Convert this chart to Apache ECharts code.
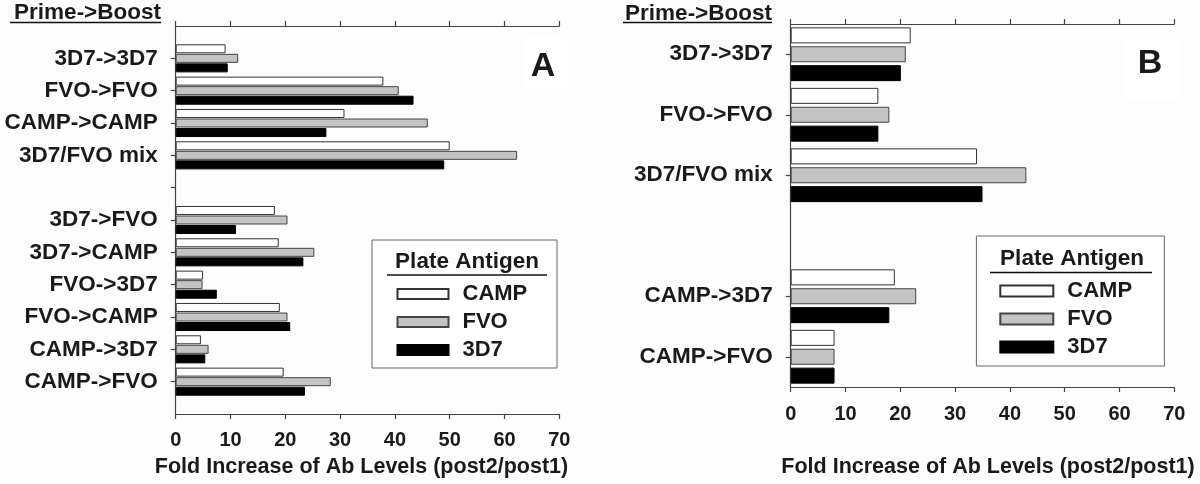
<!DOCTYPE html>
<html>
<head>
<meta charset="utf-8">
<title>Fold increase of Ab levels</title>
<script src="https://cdn.jsdelivr.net/npm/echarts@6/dist/echarts.min.js"></script>
<style>
html, body { margin: 0; padding: 0; background: #fdfdfd; }
#chart { width: 1200px; height: 484px; }
</style>
</head>
<body>
<div id="chart"></div>
<script>
// prime->boost groups, '' is the empty spacer row
var catsA = ['3D7->3D7', 'FVO->FVO', 'CAMP->CAMP', '3D7/FVO mix', '',
             '3D7->FVO', '3D7->CAMP', 'FVO->3D7', 'FVO->CAMP', 'CAMP->3D7', 'CAMP->FVO'];
var campA = [9.1, 37.9, 30.8, 50.0, null, 18.1, 18.8, 5.0, 19.0, 4.6, 19.7];
var fvoA  = [11.4, 40.7, 46.0, 62.3, null, 20.4, 25.3, 4.9, 20.4, 6.0, 28.3];
var d7A   = [9.5, 43.4, 27.5, 49.0, null, 11.0, 23.3, 7.5, 20.9, 5.4, 23.6];

var catsB = ['3D7->3D7', 'FVO->FVO', '3D7/FVO mix', '', 'CAMP->3D7', 'CAMP->FVO'];
var campB = [21.9, 16.0, 34.0, null, 19.0, 8.0];
var fvoB  = [21.0, 18.0, 43.0, null, 22.9, 8.0];
var d7B   = [20.1, 16.0, 35.0, null, 18.0, 8.0];

var plateAntigens = ['CAMP', 'FVO', '3D7'];
var xTicks = [0, 10, 20, 30, 40, 50, 60, 70];

var font = '"Liberation Sans", Arial, sans-serif';
var ink = '#1a1a1a';
var lineCol = '#444';

var barStyles = [
  { color: '#ffffff', borderColor: '#333', borderWidth: 1 },
  { color: '#c4c4c4', borderColor: '#444', borderWidth: 1 },
  { color: '#000000', borderColor: '#000', borderWidth: 1 }
];

var myChart = echarts.init(document.getElementById('chart'), null, { renderer: 'canvas' });

// panel A keeps an empty row above and below so the top/bottom rows sit one step in
var axisCatsA = [' '].concat(catsA.map(function (c) { return c === '' ? '  ' : c; }), ['   ']);
var axisCatsB = catsB.map(function (c) { return c === '' ? ' ' : c; });
function padA(arr) { return [null].concat(arr, [null]); }

function xAxes(grid, nameGap, labelMargin, namePad) {
  var base = {
    gridIndex: grid, type: 'value',
    min: xTicks[0], max: xTicks[xTicks.length - 1], interval: xTicks[1] - xTicks[0],
    splitLine: { show: false },
    axisLine: { show: true, lineStyle: { color: lineCol, width: 1.2 } },
    axisTick: { show: true, length: 5, lineStyle: { color: lineCol, width: 1.2 } }
  };
  return [
    Object.assign({}, base, {
      position: 'bottom',
      name: 'Fold Increase of Ab Levels (post2/post1)',
      nameLocation: 'middle',
      nameGap: nameGap,
      nameTextStyle: { fontFamily: font, fontSize: 21.5, fontWeight: 'bold', color: ink, padding: namePad },
      axisLabel: { fontFamily: font, fontSize: 20, fontWeight: 'bold', color: ink, margin: labelMargin }
    }),
    Object.assign({}, base, { position: 'top', axisLabel: { show: false } })
  ];
}

var yLabel = { interval: 0, fontFamily: font, fontSize: 22.5, fontWeight: 'bold', color: ink, margin: 18 };

function bars(names, datas, xi, yi, width, gap) {
  return names.map(function (n, i) {
    return {
      name: n, type: 'bar', xAxisIndex: xi, yAxisIndex: yi,
      barWidth: width, barGap: gap,
      itemStyle: barStyles[i],
      data: datas[i],
      animation: false
    };
  });
}

function legendAt(left, top, w, h) {
  return {
    data: plateAntigens, orient: 'vertical', left: left, top: top, padding: 0,
    itemWidth: w, itemHeight: h, itemGap: 6, icon: 'rect', selectedMode: false,
    textStyle: { fontFamily: font, fontSize: 22, fontWeight: 'bold', color: ink, padding: [0, 0, 0, 9] }
  };
}

function txt(x, y, s, size, align) {
  return { type: 'text', x: x, y: y, style: {
    text: s, fontFamily: font, fontSize: size, fontWeight: 'bold', fill: ink,
    align: align || 'center', verticalAlign: 'middle' } };
}
function hline(x1, x2, y, w) {
  return { type: 'line', shape: { x1: x1, y1: y, x2: x2, y2: y }, style: { stroke: '#111', lineWidth: w } };
}
function box(x, y, w, h, stroke) {
  return { type: 'rect', shape: { x: x, y: y, width: w, height: h },
    style: { fill: '#ffffff', stroke: stroke || null, lineWidth: 1 } };
}

var option = {
  backgroundColor: '#fdfdfd',
  animation: false,
  grid: [
    { left: 175.7, top: 26, width: 383.6, height: 388, outerBoundsMode: 'none' },
    { left: 790.7, top: 24, width: 383.6, height: 363, outerBoundsMode: 'none' }
  ],
  xAxis: xAxes(0, 42, 16, [0, 12, 0, 0]).concat(xAxes(1, 69, 17.5, [0, 0, 0, 11])),
  yAxis: [
    {
      gridIndex: 0, type: 'category', inverse: true, boundaryGap: false, data: axisCatsA,
      axisLine: { show: true, lineStyle: { color: lineCol, width: 1.2 } },
      axisTick: { show: true, length: 5, lineStyle: { color: lineCol, width: 1.2 },
        interval: function (i) { return i > 0 && i < axisCatsA.length - 1; } },
      axisLabel: yLabel
    },
    {
      gridIndex: 1, type: 'category', inverse: true, data: axisCatsB,
      axisLine: { show: true, lineStyle: { color: lineCol, width: 1.2 } },
      axisTick: { show: true, length: 5, alignWithLabel: true, lineStyle: { color: lineCol, width: 1.2 },
        interval: function (i, v) { return v.trim() !== ''; } },
      axisLabel: yLabel
    }
  ],
  legend: [legendAt(396.5, 283, 51, 10), legendAt(999.3, 280, 53, 11)],
  graphic: [
    // legend frames
    box(372, 240, 185, 128, '#666'),
    box(976.4, 236, 188, 130, '#666'),
    txt(467, 262, 'Plate Antigen', 22.5),
    hline(387, 547, 275, 1.6),
    txt(1072, 258.5, 'Plate Antigen', 22.5),
    hline(990, 1152, 272.5, 1.6),
    // panel letters
    box(521.7, 38, 45.6, 48.7),
    txt(543, 67, 'A', 34),
    box(1125, 40, 54, 60),
    txt(1150, 64, 'B', 34),
    // row header
    txt(161, 12.5, 'Prime->Boost', 22.5, 'right'),
    hline(10, 161, 22.5, 1.6),
    txt(772, 14, 'Prime->Boost', 22.5, 'right'),
    hline(623, 772, 22.5, 1.6)
  ],
  series: bars(plateAntigens, [padA(campA), padA(fvoA), padA(d7A)], 0, 0, 9, '6%')
    .concat(bars(plateAntigens, [campB, fvoB, d7B], 2, 1, 16, '18%'))
};

option && myChart.setOption(option);
</script>
</body>
</html>
